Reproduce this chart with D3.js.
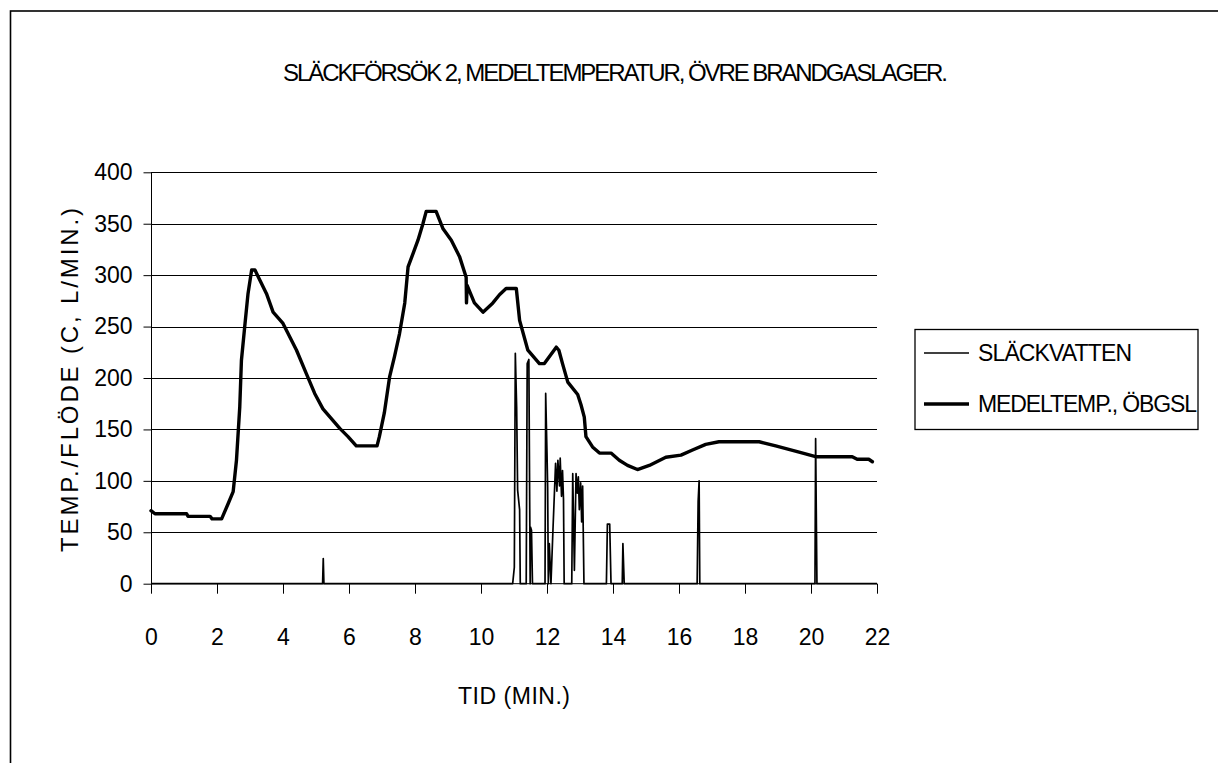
<!DOCTYPE html>
<html>
<head>
<meta charset="utf-8">
<script src="https://cdn.jsdelivr.net/npm/d3@7"></script>
<style>
  html, body { margin: 0; padding: 0; background: #fff; }
  svg { display: block; }
  text { font-family: "Liberation Sans", Arial, sans-serif; fill: #000; }
</style>
</head>
<body>
<svg id="chart" width="1218" height="763"></svg>
<script>
// Medeltemperatur, övre brandgaslager (°C) – tid i minuter
const tempTime = [0, 0.12, 1.08, 1.12, 1.79, 1.85, 2.14, 2.34, 2.49, 2.59, 2.69, 2.74, 2.84, 2.94, 3.05, 3.15,
  3.30, 3.50, 3.70, 4.00, 4.41, 4.71, 4.96, 5.21, 5.72, 5.97, 6.22, 6.85, 6.92, 7.07, 7.23, 7.38, 7.53, 7.69,
  7.79, 7.94, 8.09, 8.24, 8.34, 8.64, 8.85, 9.10, 9.35, 9.55, 9.56, 9.58, 9.80, 10.06, 10.36, 10.56, 10.76,
  11.07, 11.17, 11.42, 11.77, 11.92, 12.28, 12.36, 12.47, 12.63, 12.93, 13.03, 13.13, 13.18, 13.38, 13.59,
  13.94, 14.19, 14.44, 14.74, 15.10, 15.60, 16.06, 16.41, 16.81, 17.21, 18.43, 18.93, 19.64, 20.14, 21.25,
  21.40, 21.75, 21.86];
const tempValue = [71, 68, 68, 65.5, 65.5, 63, 63, 78, 89.5, 120, 172, 217, 250, 282, 305, 305,
  295, 282, 264, 253, 227, 204, 185, 170, 151, 143, 134, 134, 143, 166, 201, 221, 243, 273,
  308, 321, 334, 350, 362, 362, 345, 334, 318, 298, 273, 290, 273, 264, 273, 281, 287,
  287, 256, 227, 214, 214, 230, 227, 214, 196, 184, 174, 162, 143, 133, 127,
  127, 120, 115, 111, 115, 123, 125, 130, 135.5, 138, 138, 134, 128, 123.5, 123.5,
  121, 121, 118.6];

// Släckvattenflöde (L/min)
const flowTime = [0, 5.20, 5.22, 5.24, 10.96, 11.01, 11.04, 11.08, 11.11, 11.17, 11.19, 11.37, 11.40, 11.45,
  11.49, 11.50, 11.53, 11.56, 11.94, 11.96, 12.00, 12.02, 12.04, 12.07, 12.12, 12.18, 12.26, 12.30, 12.33,
  12.38, 12.40, 12.44, 12.47, 12.50, 12.52, 12.75, 12.78, 12.83, 12.88, 12.92, 12.95, 12.98, 13.02, 13.05,
  13.08, 13.12, 13.80, 13.83, 13.90, 13.94, 14.28, 14.30, 14.34, 16.55, 16.58, 16.61, 16.63, 20.12, 20.14,
  20.18, 22];
const flowValue = [0, 0, 24.5, 0, 0, 16, 224, 172, 91, 72, 0, 0, 214, 218,
  0, 55, 52, 0, 0, 185, 127, 94, 0, 39, 0, 52, 117, 90, 120,
  95, 122, 85, 110, 82, 0, 0, 107, 13, 107, 88, 104, 72, 98, 60,
  95, 0, 0, 58, 58, 0, 0, 39, 0, 0, 80, 100, 0, 0, 141,
  0, 0];

const xTicks = [0, 2, 4, 6, 8, 10, 12, 14, 16, 18, 20, 22];
const yTicks = [0, 50, 100, 150, 200, 250, 300, 350, 400];

const seriesNames = ["SLÄCKVATTEN", "MEDELTEMP., ÖBGSL"];
const chartTitle = "SLÄCKFÖRSÖK 2, MEDELTEMPERATUR, ÖVRE BRANDGASLAGER.";
const xTitle = "TID (MIN.)";
const yTitle = "TEMP./FLÖDE  (C, L/MIN.)";

const svg = d3.select("#chart");

// outer chart frame
svg.append("rect")
  .attr("x", 10.5).attr("y", 11).attr("width", 1240).attr("height", 800)
  .attr("fill", "none").attr("stroke", "#000").attr("stroke-width", 1.6);

const plot = { left: 151, right: 877, top: 172.3, bottom: 583.7 };

const x = d3.scaleLinear().domain([0, 22]).range([plot.left, plot.right]);
const y = d3.scaleLinear().domain([0, 400]).range([plot.bottom, plot.top]);

// horizontal gridlines
svg.append("g")
  .selectAll("line")
  .data(yTicks.filter(d => d > 0))
  .join("line")
  .attr("x1", plot.left).attr("x2", plot.right)
  .attr("y1", d => Math.round(y(d)) + 0.5).attr("y2", d => Math.round(y(d)) + 0.5)
  .attr("stroke", "#000").attr("stroke-width", 1);

// y axis
const yAxis = svg.append("g")
  .attr("transform", `translate(${plot.left + 0.5},0)`)
  .call(d3.axisLeft(y).tickValues(yTicks).tickSize(8).tickPadding(11).tickFormat(d3.format("d")));
yAxis.select(".domain").attr("stroke", "#000").attr("d", `M0,${plot.top}V${plot.bottom}`);
yAxis.selectAll(".tick line").attr("stroke", "#000");
yAxis.selectAll(".tick text")
  .style("font-family", "'Liberation Sans', Arial, sans-serif")
  .style("font-size", "23px").attr("fill", "#000");

// x axis
const xAxis = svg.append("g")
  .attr("transform", `translate(0,${plot.bottom})`)
  .call(d3.axisBottom(x).tickValues(xTicks).tickSize(10).tickPadding(34).tickFormat(d3.format("d")));
xAxis.select(".domain").attr("stroke", "#000").attr("d", `M${plot.left},0H${plot.right}`);
xAxis.selectAll(".tick line").attr("stroke", "#000");
xAxis.selectAll(".tick text")
  .style("font-family", "'Liberation Sans', Arial, sans-serif")
  .style("font-size", "23px").attr("fill", "#000")
  .attr("y", 61).attr("dy", "0");

// series
const flowData = flowTime.map((t, i) => [t, flowValue[i]]);
const tempData = tempTime.map((t, i) => [t, tempValue[i]]);
const line = d3.line().x(d => x(d[0])).y(d => y(d[1]));

svg.append("path").datum(flowData)
  .attr("d", line).attr("fill", "none")
  .attr("stroke", "#000").attr("stroke-width", 1.7).attr("stroke-linejoin", "round");

svg.append("path").datum(tempData)
  .attr("d", line).attr("fill", "none")
  .attr("stroke", "#000").attr("stroke-width", 3.4)
  .attr("stroke-linejoin", "round").attr("stroke-linecap", "round");

// titles
svg.append("text")
  .attr("x", 283).attr("y", 80.5)
  .attr("textLength", 665).attr("lengthAdjust", "spacing")
  .style("font-size", "24px")
  .text(chartTitle);

svg.append("text")
  .attr("x", 458).attr("y", 704)
  .attr("textLength", 112).attr("lengthAdjust", "spacing")
  .style("font-size", "23px")
  .text(xTitle);

svg.append("text")
  .attr("transform", "translate(78,552) rotate(-90)")
  .attr("x", 0).attr("y", 0)
  .attr("textLength", 344).attr("lengthAdjust", "spacing")
  .style("font-size", "24px")
  .text(yTitle);

// legend
const legend = svg.append("g");
legend.append("rect")
  .attr("x", 915).attr("y", 329.5).attr("width", 283).attr("height", 100)
  .attr("fill", "#fff").attr("stroke", "#000").attr("stroke-width", 1.3);

const legendRows = [
  { name: seriesNames[0], width: 1.7, y: 353, len: 154 },
  { name: seriesNames[1], width: 3.4, y: 404, len: 219 }
];
legendRows.forEach(r => {
  legend.append("line")
    .attr("x1", 924).attr("x2", 969).attr("y1", r.y).attr("y2", r.y)
    .attr("stroke", "#000").attr("stroke-width", r.width);
  legend.append("text")
    .attr("x", 978).attr("y", r.y + 8)
    .attr("textLength", r.len).attr("lengthAdjust", "spacing")
    .style("font-size", "23px")
    .text(r.name);
});
</script>
</body>
</html>
